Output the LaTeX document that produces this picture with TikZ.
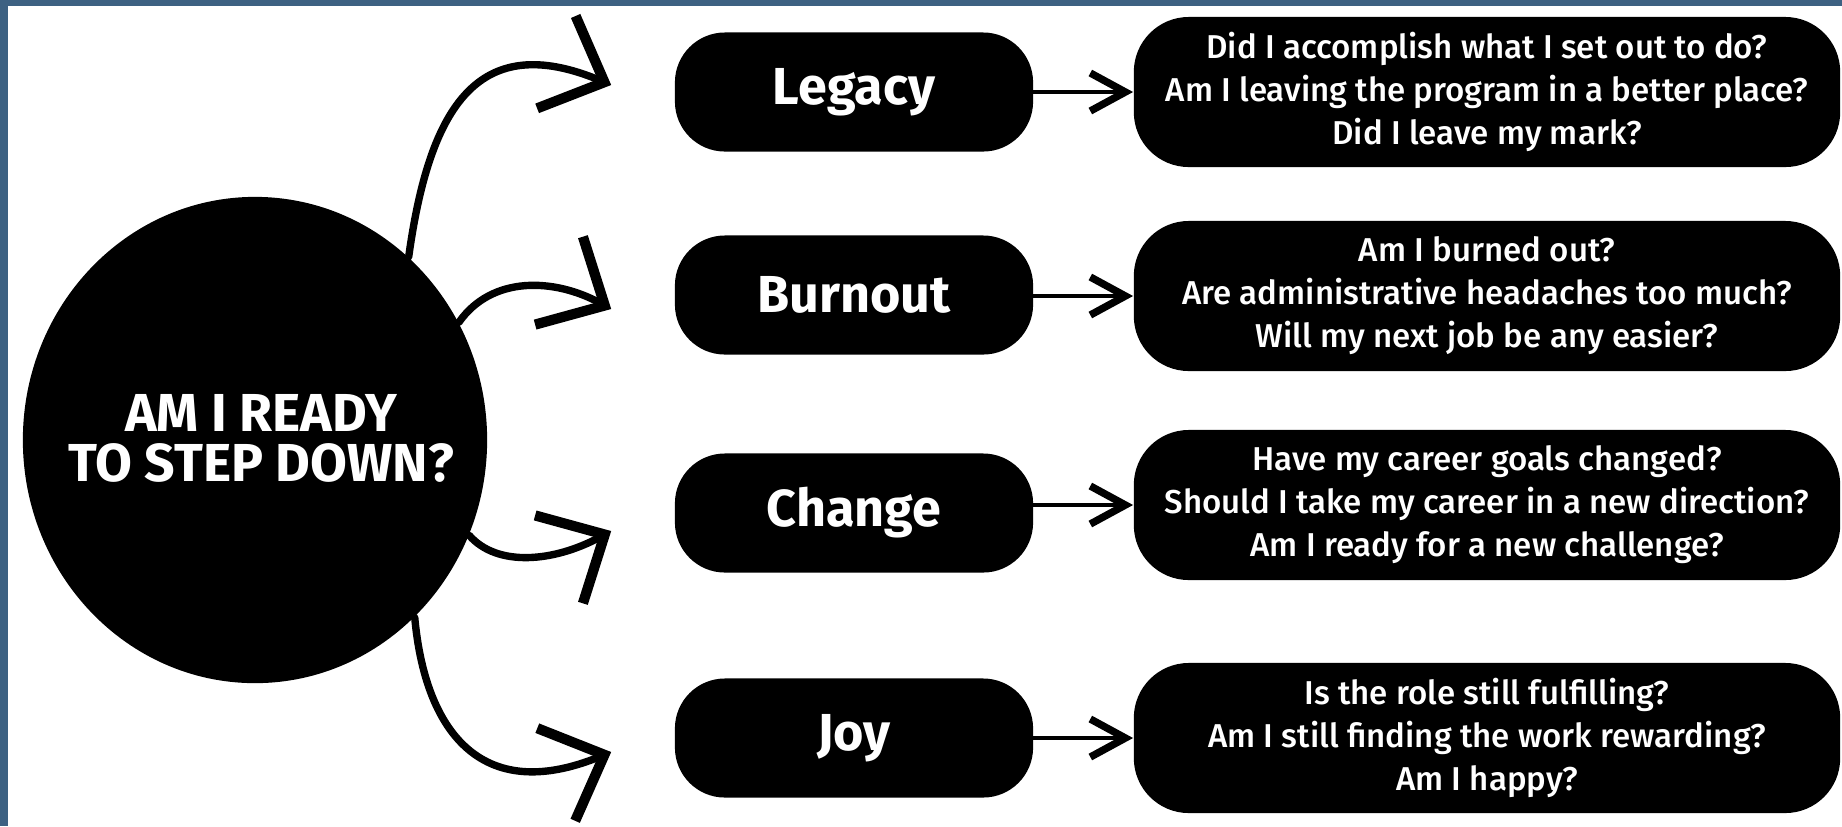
\documentclass[tikz,border=0pt]{standalone}
\usepackage{fontspec}
\setmainfont{Fira Sans}
\newfontfamily\askfont{Fira Sans Medium}
\usetikzlibrary{shapes.geometric,arrows.meta,calc}
\definecolor{rim}{HTML}{3D6182}

\begin{document}
\begin{tikzpicture}[x=0.01cm,y=-0.01cm,
			hub/.style={
				ellipse,
				fill=black,
				inner sep=0pt,
				minimum width=4.64cm,
				minimum height=4.86cm
			},
			hubtext/.style={
				text=white,
				align=center,
				font=\fontsize{15.2}{14.2}\selectfont\bfseries
			},
			pill/.style={
				rectangle,
				rounded corners=0.5cm,
				fill=black,
				minimum width=3.58cm,
				minimum height=1.19cm,
				text=white,
				font=\fontsize{14.8}{16}\selectfont\bfseries
			},
			ask/.style={
				rectangle,
				rounded corners=0.55cm,
				fill=black,
				minimum width=7.06cm,
				minimum height=1.5cm,
				inner sep=0pt,
				text=white,
				align=center,
				font=\askfont\fontsize{9.4}{12.2}\selectfont
			},
			link/.style={line width=1.4pt, line cap=round,
				-{Straight Barb[length=3.5mm,width=3.8mm,line width=2.1pt]}},
			curl/.style={line width=2.1pt, line cap=round,
				-{Straight Barb[length=5.2mm,width=10mm,line width=2.9pt]}}
			]
			\useasboundingbox (0,0) rectangle (1842,826);
			\fill[white] (0,0) rectangle (1842,826);
			\fill[rim] (0,0) rectangle (1842,6);
			\fill[rim] (0,0) rectangle (8,826);
			%---------------- CIRCLE ----------------
			\node[hub] (ready) at (255,440) {};
			\node[hubtext] (readytext) at (261,438) {AM I READY\\TO STEP DOWN?};
			%---------------- TOPICS ----------------
			\node[pill] (legacy) at (854,92) {Legacy};
			\node[pill] (burnout) at (854,295) {Burnout};
			\node[pill] (change) at (854,513) {Change};
			\node[pill] (joy) at (854,738) {Joy};
			%---------------- QUESTIONS ----------------
			\node[ask] (qlegacy) at (1487,92) {Did I accomplish what I set out to do?\\Am I leaving the program in a better place?\\Did I leave my mark?};
			\node[ask] (qburnout) at (1487,296) {Am I burned out?\\Are administrative headaches too much?\\Will my next job be any easier?};
			\node[ask] (qchange) at (1487,505) {Have my career goals changed?\\Should I take my career in a new direction?\\Am I ready for a new challenge?};
			\node[ask] (qjoy) at (1487,738) {Is the role still fulfilling?\\Am I still finding the work rewarding?\\Am I happy?};
			%---------------- ARROWS ----------------
			\draw[curl] (ready.50) .. controls +(21,-152) and +(-132,-55) .. ($(legacy.west)+(-63,-7)$);
			\draw[curl] (ready.30) .. controls +(33,-47) and +(-57,-31) .. ($(burnout.west)+(-63,14)$);
			\draw[curl] (ready.-24) .. controls +(28,32) and +(-57,31) .. ($(change.west)+(-63,18)$);
			\draw[curl] (ready.-48) .. controls +(10,111) and +(-132,54) .. ($(joy.west)+(-63,14)$);
			\draw[link] (legacy.east |- qlegacy.west) -- (qlegacy.west);
			\draw[link] (burnout.east |- qburnout.west) -- (qburnout.west);
			\draw[link] (change.east |- qchange.west) -- (qchange.west);
			\draw[link] (joy.east |- qjoy.west) -- (qjoy.west);
		\end{tikzpicture}
\end{document}
